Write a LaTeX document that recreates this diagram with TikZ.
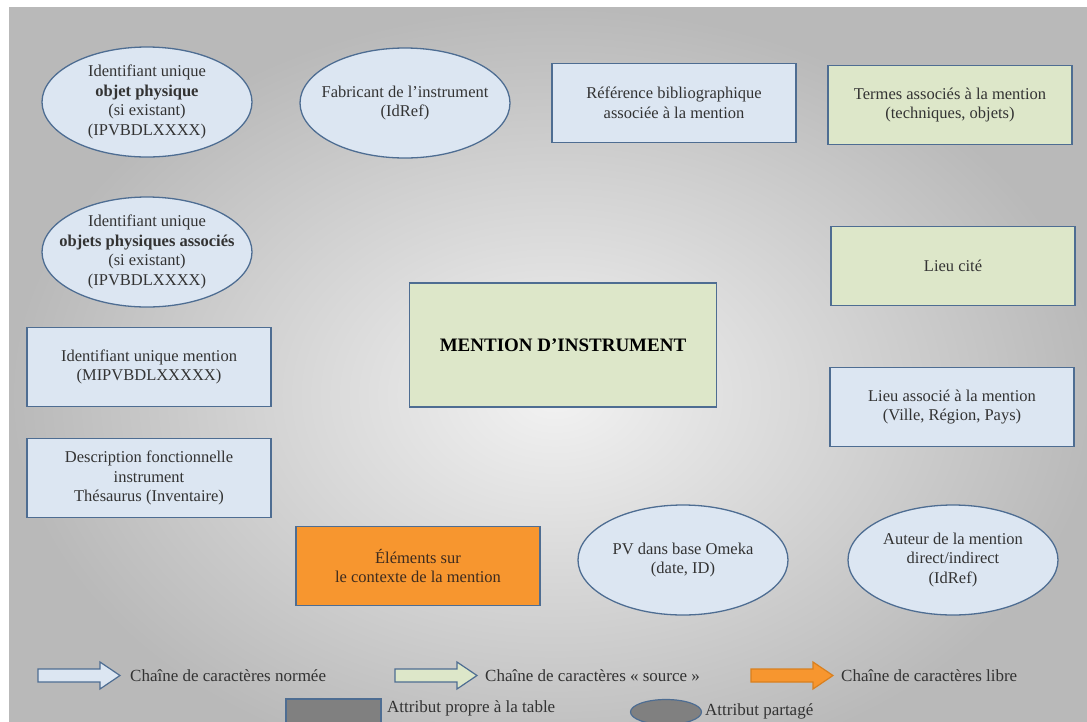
\documentclass[tikz,border=0pt]{standalone}
\usepackage{fontspec}
\setmainfont{Liberation Serif}
\usetikzlibrary{shapes.geometric}
\definecolor{boxblue}{HTML}{DCE6F2}
\definecolor{boxgreen}{HTML}{DDE7C9}
\definecolor{boxorange}{HTML}{F7962F}
\definecolor{boxline}{HTML}{4E6D92}
\definecolor{orangeline}{HTML}{D9801F}
\definecolor{textgray}{HTML}{333333}
\definecolor{orangetext}{HTML}{3D2B1F}
\definecolor{bgin}{HTML}{F2F2F2}
\definecolor{bgout}{HTML}{B9B9B9}
\definecolor{legendgray}{HTML}{808080}
\newcommand{\mainsize}{\fontsize{16.5}{19.5}\selectfont}
\newcommand{\mentionsize}{\fontsize{19}{22}\selectfont}
\newcommand{\legendsize}{\fontsize{17}{20}\selectfont}

\begin{document}
\begin{tikzpicture}[x=1pt,y=-1pt,
	blueattr/.style={draw=boxline,fill=boxblue,line width=1.5pt,minimum width=244pt,minimum height=79pt,inner sep=0pt,align=center,text=textgray,font=\mainsize},
	greenattr/.style={blueattr,fill=boxgreen},
	orangeattr/.style={blueattr,fill=boxorange,text=orangetext},
	sharedattr/.style={ellipse,draw=boxline,fill=boxblue,line width=1.3pt,minimum width=210pt,minimum height=110pt,inner sep=-15pt,align=center,text=textgray,font=\mainsize},
	legendtext/.style={anchor=west,inner sep=0pt,text=textgray,font=\legendsize}]
\useasboundingbox (0,0) rectangle (1087,721);
\clip (0,0) rectangle (1087,721);
\shade[inner color=bgin,outer color=bgout] (9,7) rectangle (1101,783);

\node[sharedattr] (idobjet) at (147,102) {Identifiant unique\\\textbf{objet physique}\\(si existant)\\(IPVBDLXXXX)};
\node[sharedattr] (fabricant) at (405,103) {Fabricant de l’instrument\\(IdRef)};
\node[blueattr] (biblio) at (674,103) {Référence bibliographique\\associée à la mention};
\node[greenattr] (termes) at (950,105) {Termes associés à la mention\\(techniques, objets)};
\node[sharedattr] (idassoc) at (147,252) {Identifiant unique\\\textbf{objets physiques associés}\\(si existant)\\(IPVBDLXXXX)};
\node[greenattr] (lieucite) at (953,266) {Lieu cité};
\node[greenattr,minimum width=307pt,minimum height=124pt,font=\mentionsize\bfseries,text=black] (mention) at (563,345) {MENTION D’INSTRUMENT};
\node[blueattr] (idmention) at (149,367) {Identifiant unique mention\\(MIPVBDLXXXXX)};
\node[blueattr] (lieuassoc) at (952,407) {Lieu associé à la mention\\(Ville, Région, Pays)};
\node[blueattr] (description) at (149,478) {Description fonctionnelle\\instrument\\Thésaurus (Inventaire)};
\node[orangeattr] (contexte) at (418,566) {Éléments sur\\le contexte de la mention};
\node[sharedattr] (omeka) at (683,560) {PV dans base Omeka\\(date, ID)};
\node[sharedattr] (auteur) at (953,560) {Auteur de la mention\\direct/indirect\\(IdRef)};

\foreach \x/\c/\l in {38/boxblue/boxline,395/boxgreen/boxline,751/boxorange/orangeline}
{
	\draw[draw=\l,fill=\c,line width=1.2pt] (\x,669) -- (\x+62,669) -- (\x+62,662) -- (\x+82,675.5) -- (\x+62,689) -- (\x+62,682) -- (\x,682) -- cycle;
}
\node[legendtext] (normee) at (130,676) {Chaîne de caractères normée};
\node[legendtext] (source) at (485,676) {Chaîne de caractères «~source~»};
\node[legendtext] (libre) at (841,676) {Chaîne de caractères libre};
\draw[draw=boxline,fill=legendgray,line width=1.2pt] (286,699) rectangle (381,724);
\node[legendtext] (propre) at (387,708) {Attribut propre à la table};
\node[ellipse,draw=boxline,fill=legendgray,line width=1.2pt,minimum width=71pt,minimum height=25pt,inner sep=0pt] (partage) at (666,712) {};
\node[legendtext] (partagetext) at (705,711) {Attribut partagé};
\end{tikzpicture}
\end{document}
